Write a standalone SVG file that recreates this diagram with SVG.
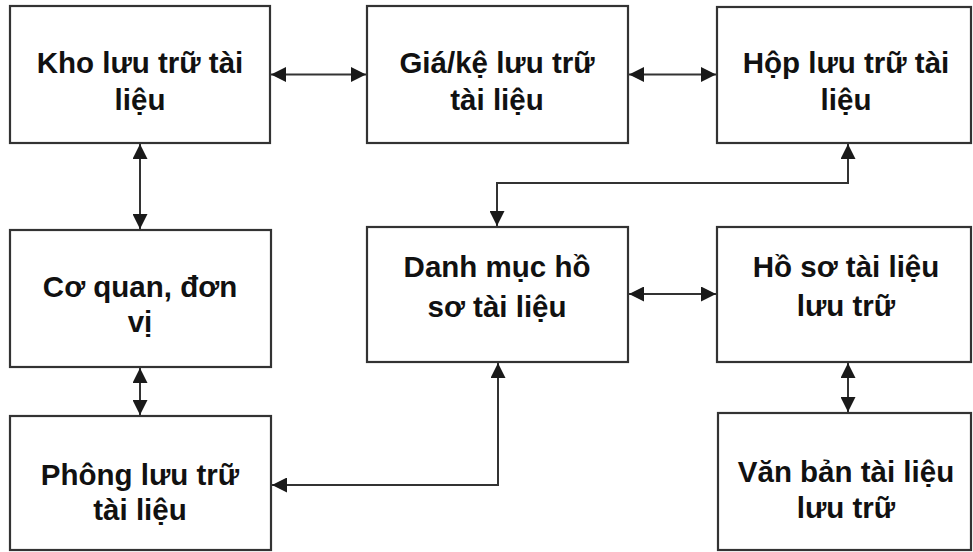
<svg xmlns="http://www.w3.org/2000/svg" width="973" height="552" viewBox="0 0 973 552">
<defs>
<marker id="ah" viewBox="0 0 10 10" refX="10" refY="5" markerWidth="7.5" markerHeight="7.5" markerUnits="strokeWidth" orient="auto-start-reverse">
<path d="M0,0 L10,5 L0,10 z" fill="#1a1a1a"/>
</marker>
<style>
.box{fill:#fff;stroke:#333;stroke-width:2.2}
.lbl{font-family:"Liberation Sans",Arial,sans-serif;font-weight:bold;font-size:29.5px;fill:#111;text-anchor:middle}
.con{fill:none;stroke:#333;stroke-width:2;marker-start:url(#ah);marker-end:url(#ah)}
</style>
</defs>
<rect width="973" height="552" fill="#fff"/>
<g id="connectors">
<path class="con" d="M271,74.5 H366"/>
<path class="con" d="M629,74.5 H716"/>
<path class="con" d="M140,144 V229"/>
<path class="con" d="M140,368 V415"/>
<path class="con" d="M848,144 V183 H497 V226"/>
<path class="con" d="M629,294 H716"/>
<path class="con" d="M848,363 V412"/>
<path class="con" d="M272,485 H498 V363"/>
</g>
<g id="kho"><rect class="box" x="10" y="6" width="260" height="137"/><text class="lbl" x="140" y="73">Kho lưu trữ tài</text><text class="lbl" x="140" y="110">liệu</text></g>
<g id="gia"><rect class="box" x="367" y="6" width="261" height="137"/><text class="lbl" x="497" y="73">Giá/kệ lưu trữ</text><text class="lbl" x="497" y="110">tài liệu</text></g>
<g id="hop"><rect class="box" x="717" y="7" width="254" height="136"/><text class="lbl" x="846" y="73">Hộp lưu trữ tài</text><text class="lbl" x="846" y="110">liệu</text></g>
<g id="coquan"><rect class="box" x="10" y="230" width="261" height="137"/><text class="lbl" x="140" y="297">Cơ quan, đơn</text><text class="lbl" x="140" y="332">vị</text></g>
<g id="danhmuc"><rect class="box" x="367" y="227" width="261" height="135"/><text class="lbl" x="497" y="277">Danh mục hồ</text><text class="lbl" x="497" y="317">sơ tài liệu</text></g>
<g id="hoso"><rect class="box" x="717" y="227" width="254" height="135"/><text class="lbl" x="846" y="277">Hồ sơ tài liệu</text><text class="lbl" x="846" y="316">lưu trữ</text></g>
<g id="phong"><rect class="box" x="10" y="416" width="261" height="134"/><text class="lbl" x="140" y="485">Phông lưu trữ</text><text class="lbl" x="140" y="520">tài liệu</text></g>
<g id="vanban"><rect class="box" x="718" y="413" width="253" height="137"/><text class="lbl" x="846" y="482">Văn bản tài liệu</text><text class="lbl" x="846" y="518">lưu trữ</text></g>
</svg>
